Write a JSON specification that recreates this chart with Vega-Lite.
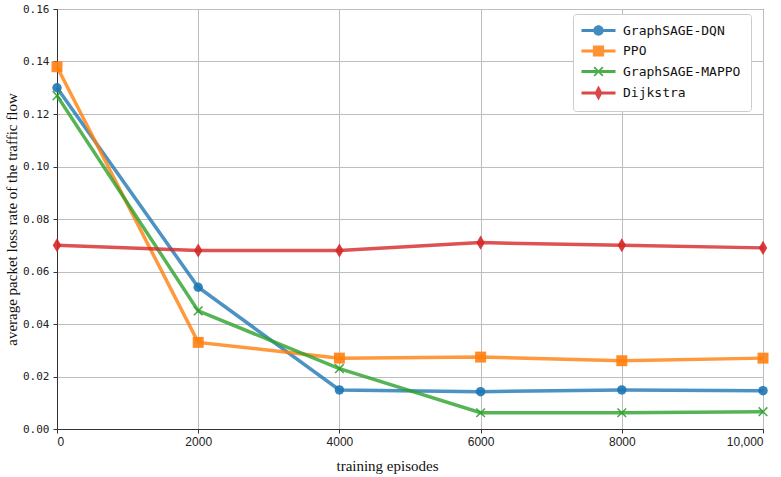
{
  "$schema": "https://vega.github.io/schema/vega-lite/v6.json",
  "width": 706,
  "height": 420,
  "autosize": "none",
  "padding": {"left": 57, "top": 9, "right": 18, "bottom": 48},
  "background": "white",
  "config": {
    "view": {"stroke": "#333333", "strokeWidth": 1},
    "axis": {
      "gridColor": "#bdbdbd",
      "gridWidth": 1,
      "domainColor": "#333333",
      "tickColor": "#333333",
      "tickSize": 4,
      "labelColor": "#222222",
      "titleColor": "#111111",
      "titleFont": "Liberation Serif",
      "titleFontWeight": "normal",
      "titleFontSize": 15
    }
  },
  "data": {
    "values": [
      {"episodes": 0, "loss": 0.130, "series": "GraphSAGE-DQN"},
      {"episodes": 2000, "loss": 0.054, "series": "GraphSAGE-DQN"},
      {"episodes": 4000, "loss": 0.0149, "series": "GraphSAGE-DQN"},
      {"episodes": 6000, "loss": 0.0142, "series": "GraphSAGE-DQN"},
      {"episodes": 8000, "loss": 0.0149, "series": "GraphSAGE-DQN"},
      {"episodes": 10000, "loss": 0.0146, "series": "GraphSAGE-DQN"},
      {"episodes": 0, "loss": 0.138, "series": "PPO"},
      {"episodes": 2000, "loss": 0.033, "series": "PPO"},
      {"episodes": 4000, "loss": 0.027, "series": "PPO"},
      {"episodes": 6000, "loss": 0.0274, "series": "PPO"},
      {"episodes": 8000, "loss": 0.026, "series": "PPO"},
      {"episodes": 10000, "loss": 0.027, "series": "PPO"},
      {"episodes": 0, "loss": 0.127, "series": "GraphSAGE-MAPPO"},
      {"episodes": 2000, "loss": 0.045, "series": "GraphSAGE-MAPPO"},
      {"episodes": 4000, "loss": 0.023, "series": "GraphSAGE-MAPPO"},
      {"episodes": 6000, "loss": 0.0062, "series": "GraphSAGE-MAPPO"},
      {"episodes": 8000, "loss": 0.0062, "series": "GraphSAGE-MAPPO"},
      {"episodes": 10000, "loss": 0.0066, "series": "GraphSAGE-MAPPO"},
      {"episodes": 0, "loss": 0.070, "series": "Dijkstra"},
      {"episodes": 2000, "loss": 0.068, "series": "Dijkstra"},
      {"episodes": 4000, "loss": 0.068, "series": "Dijkstra"},
      {"episodes": 6000, "loss": 0.071, "series": "Dijkstra"},
      {"episodes": 8000, "loss": 0.070, "series": "Dijkstra"},
      {"episodes": 10000, "loss": 0.069, "series": "Dijkstra"}
    ]
  },
  "encoding": {
    "x": {
      "field": "episodes",
      "type": "quantitative",
      "scale": {"domain": [0, 10000], "nice": false},
      "axis": {
        "title": "training episodes",
        "values": [0, 2000, 4000, 6000, 8000, 10000],
        "labelExpr": "datum.value === 10000 ? '10,000' : '' + datum.value",
        "labelFont": "Liberation Sans Narrow, Liberation Sans",
        "labelFontSize": 12,
        "labelPadding": 3,
        "titleX": 330,
        "titleY": 29,
        "titleAnchor": null
      }
    },
    "y": {
      "field": "loss",
      "type": "quantitative",
      "scale": {"domain": [0, 0.16], "nice": false},
      "axis": {
        "title": "average packet loss rate of the traffic flow",
        "values": [0, 0.02, 0.04, 0.06, 0.08, 0.1, 0.12, 0.14, 0.16],
        "format": ".2f",
        "labelFont": "DejaVu Sans Mono",
        "labelFontSize": 11,
        "labelPadding": 4,
        "titlePadding": 3
      }
    }
  },
  "resolve": {"legend": {"color": "independent", "shape": "independent"}},
  "layer": [
    {
      "mark": {"type": "line", "strokeWidth": 3.5, "opacity": 0.8},
      "encoding": {
        "color": {
          "field": "series",
          "type": "nominal",
          "scale": {
            "domain": ["GraphSAGE-DQN", "PPO", "GraphSAGE-MAPPO", "Dijkstra"],
            "range": ["#1f77b4", "#ff7f0e", "#2ca02c", "#d62728"]
          },
          "legend": null
        }
      }
    },
    {
      "transform": [{"filter": "datum.series === 'GraphSAGE-DQN'"}],
      "mark": {"type": "point", "filled": true, "opacity": 0.9, "shape": "circle", "size": 90},
      "encoding": {"color": {"field": "series", "type": "nominal", "legend": null}}
    },
    {
      "transform": [{"filter": "datum.series === 'PPO'"}],
      "mark": {"type": "point", "filled": true, "opacity": 0.9, "shape": "square", "size": 120},
      "encoding": {"color": {"field": "series", "type": "nominal", "legend": null}}
    },
    {
      "transform": [{"filter": "datum.series === 'GraphSAGE-MAPPO'"}],
      "mark": {"type": "point", "filled": true, "opacity": 0.9, "size": 150,
        "shape": "M0,0.17L-0.62,0.79L-0.79,0.62L-0.17,0L-0.79,-0.62L-0.62,-0.79L0,-0.17L0.62,-0.79L0.79,-0.62L0.17,0L0.79,0.62L0.62,0.79Z"},
      "encoding": {"color": {"field": "series", "type": "nominal", "legend": null}}
    },
    {
      "transform": [{"filter": "datum.series === 'Dijkstra'"}],
      "mark": {"type": "point", "filled": true, "opacity": 0.9, "size": 200,
        "shape": "M0,-1L0.6,0L0,1L-0.6,0Z"},
      "encoding": {"color": {"field": "series", "type": "nominal", "legend": null}}
    },
    {
      "mark": {"type": "point", "filled": true, "opacity": 0},
      "encoding": {
        "color": {
          "field": "series",
          "type": "nominal",
          "legend": {
            "title": null,
            "orient": "none",
            "legendX": 516,
            "legendY": 5,
            "padding": 10,
            "fillColor": "white",
            "strokeColor": "#cccccc",
            "cornerRadius": 3,
            "symbolSize": 16,
            "symbolStrokeWidth": 0,
            "symbolOpacity": 0.85,
            "rowPadding": 6.5,
            "labelOffset": 27,
            "labelFont": "DejaVu Sans Mono",
            "labelFontSize": 13,
            "labelColor": "#111111",
            "labelLimit": 300
          }
        },
        "shape": {
          "field": "series",
          "type": "nominal",
          "scale": {
            "domain": ["GraphSAGE-DQN", "PPO", "GraphSAGE-MAPPO", "Dijkstra"],
            "range": [
              "M-4,-0.8L13,-0.8L13,0.8L-4,0.8Z M1.9,0A2.6,2.6 0 1,1 7.1,0A2.6,2.6 0 1,1 1.9,0Z",
              "M-4,-0.8L13,-0.8L13,0.8L-4,0.8Z M1.7,-2.8L7.3,-2.8L7.3,2.8L1.7,2.8Z",
              "M-4,-0.8L13,-0.8L13,0.8L-4,0.8Z M4.5,0.64L2.63,2.5L2,1.87L3.86,0L2,-1.87L2.63,-2.5L4.5,-0.64L6.37,-2.5L7,-1.87L5.14,0L7,1.87L6.37,2.5Z",
              "M-4,-0.8L13,-0.8L13,0.8L-4,0.8Z M4.5,-3.7L6.5,0L4.5,3.7L2.5,0Z"
            ]
          },
          "legend": {
            "title": null,
            "orient": "none",
            "legendX": 516,
            "legendY": 5,
            "padding": 10,
            "fillColor": "white",
            "strokeColor": "#cccccc",
            "cornerRadius": 3,
            "symbolSize": 16,
            "symbolStrokeWidth": 0,
            "symbolOpacity": 0.85,
            "rowPadding": 6.5,
            "labelOffset": 27,
            "labelFont": "DejaVu Sans Mono",
            "labelFontSize": 13,
            "labelColor": "#111111",
            "labelLimit": 300
          }
        }
      }
    }
  ]
}
